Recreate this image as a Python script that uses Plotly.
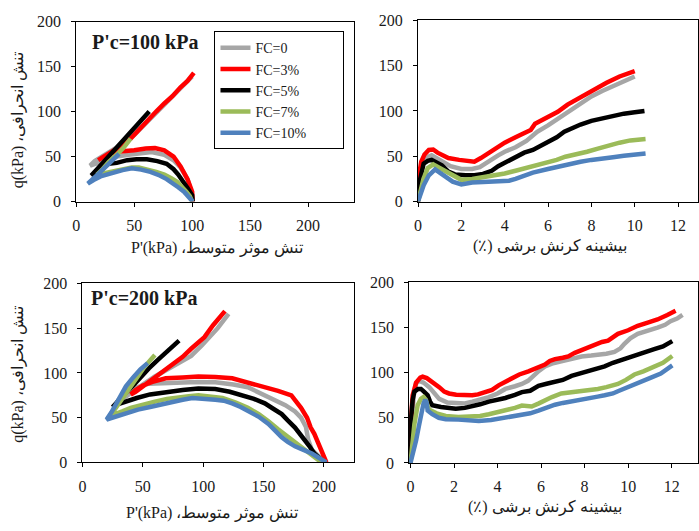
import plotly.graph_objects as go

# ---------------- data ----------------
SERIES_NAMES = ["FC=0", "FC=3%", "FC=5%", "FC=7%", "FC=10%"]

# Top-left: stress path, P'c = 100 kPa  (p', q)
TL_FC0_P = [100, 99, 96, 90, 84, 76, 65, 55, 45, 35, 25, 17, 12, 16, 22, 30, 40, 50, 60, 70, 80, 90, 100]
TL_FC0_Q = [0, 12, 25, 38, 46, 52, 55, 54, 52, 50, 46, 42, 40, 45, 50, 56, 64, 74, 87, 99, 112, 125, 139]
TL_FC3_P = [100.5, 100, 96, 90, 84, 76, 68, 60, 50, 40, 33, 25, 19, 24, 32, 40, 47, 55, 62, 69, 76, 83, 90, 96, 101.5]
TL_FC3_Q = [0, 11, 25, 39, 50, 57, 59.5, 59, 57, 56, 55, 51, 46, 50, 56, 63, 70, 81, 92, 100, 109, 117, 127, 134, 143]
TL_FC5_P = [100.5, 100, 96, 93, 88, 84, 78, 70, 61, 52, 44, 35, 28, 22, 17, 13, 18, 23, 28, 33, 38, 43, 48, 53, 58, 63]
TL_FC5_Q = [0, 7, 15, 21, 30, 36, 42, 45, 47, 47, 46, 43, 42, 37, 33, 29, 36, 43, 50, 57, 64, 71, 79, 86, 93, 100]
TL_FC7_P = [100, 98, 95, 91, 87, 82, 76, 69, 61, 54, 48, 40, 33, 25, 18, 22, 28, 35, 41, 47]
TL_FC7_Q = [0, 6, 11, 17, 22, 26, 30, 33, 36, 38, 38, 36, 34, 32, 30, 35, 44, 52, 60, 70]
TL_FC10_P = [100.5, 97, 93, 88, 84, 78, 72, 64, 56, 48, 40, 33, 26, 21, 15, 10, 16, 22, 28, 34, 37]
TL_FC10_Q = [0, 6, 11, 16, 20, 25, 29, 33, 35.5, 37, 35, 32, 30, 28, 24, 20, 27, 34, 41, 49, 53]

# Top-right: q vs max shear strain, P'c = 100 kPa
TR_FC0_E = [0, 0.05, 0.15, 0.35, 0.63, 0.9, 1.2, 1.5, 2.0, 2.5, 2.85, 3.1, 3.3, 3.7, 4.0, 4.5, 5.0, 5.5, 6.0, 6.5, 7.0, 7.5, 8.0, 8.5, 9.0, 9.5, 10.0]
TR_FC0_Q = [0, 20, 38, 48, 51, 47, 42, 39, 36, 36, 38, 42, 46, 51, 55, 60, 67, 77, 84, 92, 101, 109, 116, 122, 127, 132, 138]
TR_FC3_E = [0, 0.05, 0.15, 0.3, 0.5, 0.7, 0.9, 1.1, 1.4, 1.9, 2.3, 2.6, 2.9, 3.2, 3.5, 4.0, 4.5, 5.0, 5.2, 5.4, 6.0, 6.45, 6.9, 7.5, 8.1, 8.7, 9.3, 10.0]
TR_FC3_Q = [0, 30, 44, 52, 57, 57.5, 54, 52, 48, 46, 45, 44, 48, 53, 58, 65, 71, 76, 79, 86, 94, 99, 107, 115, 124, 131, 138, 144]
TR_FC5_E = [0, 0.03, 0.1, 0.26, 0.45, 0.63, 0.85, 1.1, 1.4, 1.7, 2.2, 2.6, 3.0, 3.4, 3.7, 4.1, 4.5, 4.9, 5.3, 5.7, 6.0, 6.4, 6.75, 7.1, 7.5, 8.0, 8.5, 9.0, 9.5, 10.0, 10.45]
TR_FC5_Q = [0, 7, 25, 42, 45, 46, 43, 40, 33, 30, 29, 29, 30.5, 34, 39, 44, 50, 54, 57, 62, 67, 71, 77, 81, 85, 89, 92, 95, 97, 98.5, 100]
TR_FC7_E = [0, 0.1, 0.25, 0.45, 0.7, 1.0, 1.3, 1.6, 2.0, 2.5, 3.0, 3.5, 4.0, 4.5, 5.0, 5.5, 5.9, 6.4, 6.8, 7.3, 7.8, 8.3, 8.8, 9.3, 9.8, 10.5]
TR_FC7_Q = [0, 10, 25, 37, 41, 37, 33, 28, 24, 25, 27, 28.5, 31, 34, 37, 40, 43.5, 46, 49.5, 52, 55, 58.5, 62, 65, 67.5, 69]
TR_FC10_E = [0, 0.1, 0.26, 0.5, 0.79, 1.0, 1.3, 1.6, 2.0, 2.5, 3.0, 3.7, 4.2, 4.5, 5.0, 5.3, 6.0, 6.5, 7.0, 7.5, 8.0, 8.5, 9.0, 9.5, 10.0, 10.5]
TR_FC10_Q = [0, 7, 18, 29, 35.5, 32, 27, 22, 19, 21, 21.5, 22, 23, 25, 29, 32, 36, 39, 42, 44, 46, 47, 49, 50.5, 51.5, 53]

# Bottom-left: stress path, P'c = 200 kPa
BL_FC0_P = [200, 199, 195, 190, 187, 185, 181, 176, 168, 159, 148, 137, 125, 110, 95, 83, 70, 55, 45, 36, 30, 27, 32, 40, 50, 60, 70, 80, 90, 99, 105, 112, 121]
BL_FC0_Q = [0, 3, 8, 14, 25, 40, 50, 57, 64, 70, 77, 84, 87, 89.5, 90, 89.5, 89, 88, 84, 77, 70, 63, 70, 78, 87, 96, 104, 111, 119, 131, 140, 150, 166]
BL_FC3_P = [202, 199, 196, 192, 189, 186, 181, 176, 173, 162, 151, 138, 124, 110, 96, 83, 69, 58, 50, 44, 40, 44, 50, 55, 62, 69, 76, 83, 90, 96, 101, 108, 114, 118]
BL_FC3_Q = [0, 10, 21, 32, 39, 50, 61, 70, 75, 80, 84, 90, 94, 95.5, 96, 95, 94, 90, 86, 81, 76, 79, 85, 90, 97, 104, 111, 118, 127, 135, 140, 153, 162, 169]
BL_FC5_P = [200, 196, 192, 188, 184, 180, 176, 170, 165, 158, 151, 142, 132, 122, 110, 96, 83, 69, 56, 45, 35, 29, 25, 30, 36, 42, 48, 55, 62, 70, 80]
BL_FC5_Q = [0, 5, 10, 18, 25, 32, 39, 47, 54, 60, 66, 71, 75, 79, 82, 82.5, 81, 79, 76, 72, 68, 65, 62, 70, 78, 86, 95, 105, 114, 124, 136]
BL_FC7_P = [198, 194, 188, 184, 177, 170, 162, 154, 146, 137, 127, 116, 105, 96, 88, 80, 70, 60, 50, 40, 33, 27, 22, 26, 31, 36, 41, 46, 51, 56, 60]
BL_FC7_Q = [0, 4, 10, 14, 21, 28, 37, 46, 54, 61, 67, 72, 74, 75, 74, 73, 71, 68, 65, 61, 57, 54, 50, 58, 67, 77, 88, 98, 106, 114, 120]
BL_FC10_P = [202, 196, 190, 183, 176, 170, 165, 160, 154, 146, 138, 131, 124, 117, 110, 100, 91, 83, 77, 66, 56, 46, 36, 28, 20, 24, 28, 31, 36, 42, 48, 54]
BL_FC10_Q = [0, 5, 10, 14, 18, 23, 28, 35, 43, 51, 57, 62, 66, 69, 70, 71, 72, 70, 68, 65, 62, 59, 55, 52, 48, 56, 66, 75, 85, 95, 104, 111]

# Bottom-right: q vs max shear strain, P'c = 200 kPa
BR_FC0_E = [0, 0.05, 0.15, 0.25, 0.41, 0.6, 0.86, 1.1, 1.32, 1.7, 2.08, 2.5, 2.84, 3.2, 3.6, 4.0, 4.36, 4.8, 5.12, 5.4, 5.6, 5.9, 6.18, 6.5, 6.93, 7.4, 7.86, 8.3, 8.61, 9.0, 9.37, 9.65, 9.83, 10.1, 10.44, 10.9, 11.35, 11.7, 11.95, 12.25, 12.5]
BR_FC0_Q = [0, 40, 75, 88, 91, 89, 84, 77, 71, 67, 66, 66, 68, 70, 73, 77, 82, 85, 87.5, 91, 96, 102, 107, 110, 112.5, 115, 118, 119, 119.5, 121, 123, 127, 132, 138, 143, 146, 150, 153, 157, 160, 164]
BR_FC3_E = [0, 0.03, 0.1, 0.26, 0.45, 0.56, 0.75, 0.87, 1.1, 1.32, 1.55, 1.77, 2.1, 2.38, 2.84, 3.1, 3.45, 3.75, 4.05, 4.35, 4.66, 5.0, 5.42, 5.8, 6.18, 6.4, 6.64, 7.0, 7.25, 7.55, 7.86, 8.2, 8.47, 8.8, 9.08, 9.3, 9.53, 10.0, 10.44, 10.9, 11.35, 11.8, 12.18]
BR_FC3_Q = [0, 50, 75, 89, 94.5, 95.5, 94, 92, 87, 84, 79, 77, 75.5, 75, 75, 76, 78.5, 81, 86, 90, 94.5, 98, 101.5, 105, 109, 113, 115, 116.5, 118, 122, 125, 128.5, 132, 134, 135.5, 139, 143, 147, 152, 155.5, 159, 164, 168.5]
BR_FC5_E = [0, 0.03, 0.1, 0.18, 0.35, 0.48, 0.62, 0.79, 0.9, 1.0, 1.4, 2.08, 2.5, 2.84, 3.2, 3.6, 4.0, 4.36, 4.8, 5.12, 5.5, 5.88, 6.3, 6.64, 7.0, 7.4, 7.8, 8.16, 8.6, 8.92, 9.3, 9.68, 10.0, 10.44, 10.8, 11.2, 11.6, 12.03]
BR_FC5_Q = [0, 50, 70, 79, 82, 82, 79, 75, 68, 64, 62, 60, 61, 62.5, 65, 68, 70, 72, 75.5, 78.5, 80, 85.5, 88, 89.5, 92, 96.5, 99, 102, 105, 107, 111, 114, 117.5, 121, 124, 126, 129, 135]
BR_FC7_E = [0, 0.08, 0.18, 0.33, 0.48, 0.6, 0.71, 0.8, 0.87, 1.2, 1.62, 2.2, 2.84, 3.2, 3.6, 4.0, 4.36, 4.8, 5.12, 5.57, 5.9, 6.18, 6.5, 6.93, 7.4, 7.86, 8.2, 8.61, 9.0, 9.53, 9.9, 10.29, 10.7, 11.2, 11.6, 12.03]
BR_FC7_Q = [0, 20, 43, 64, 71, 73, 70, 62, 59, 55, 52, 51, 51, 52, 54, 56, 58, 61, 63.5, 62.5, 66, 69.5, 73, 77, 78.5, 79.5, 80, 82, 84, 87.5, 92, 98, 101.5, 107, 111, 118.5]
BR_FC10_E = [0, 0.1, 0.26, 0.38, 0.48, 0.6, 0.68, 0.74, 0.79, 1.0, 1.3, 1.62, 2.2, 2.84, 3.14, 3.7, 4.36, 4.8, 5.12, 5.5, 5.88, 6.2, 6.64, 7.0, 7.4, 7.8, 8.16, 8.6, 8.92, 9.3, 9.53, 9.9, 10.29, 10.7, 11.05, 11.5, 12.03]
BR_FC10_Q = [0, 8, 25, 40, 54, 66, 70, 67, 58, 54, 50, 48.5, 48, 47, 46.5, 47.5, 50, 52, 53.5, 55, 58, 61, 64.5, 66.5, 68, 70, 71.5, 73.5, 75, 77, 79.5, 83, 86, 90, 94.5, 99, 108]

TICKS_P = [0, 50, 100, 150, 200]
TICKS_E = [0, 2, 4, 6, 8, 10, 12]
TICKS_Q = [0, 50, 100, 150, 200]

# ---------------- styling ----------------
W, H = 699, 531
COLORS = ["#A6A6A6", "#FF0000", "#000000", "#9BBB59", "#4F81BD"]
LW = 4.5
SERIF = "Liberation Serif, Times New Roman, serif"
TXT = "#1a1a1a"
PAD = "\u00a0" * 9


def fx(px):
    return px / W


def fy(py):
    return 1 - py / H


fig = go.Figure()

panels = [
    ("x", "y", [(TL_FC0_P, TL_FC0_Q), (TL_FC3_P, TL_FC3_Q), (TL_FC5_P, TL_FC5_Q), (TL_FC7_P, TL_FC7_Q), (TL_FC10_P, TL_FC10_Q)], True),
    ("x2", "y2", [(TR_FC0_E, TR_FC0_Q), (TR_FC3_E, TR_FC3_Q), (TR_FC5_E, TR_FC5_Q), (TR_FC7_E, TR_FC7_Q), (TR_FC10_E, TR_FC10_Q)], False),
    ("x3", "y3", [(BL_FC0_P, BL_FC0_Q), (BL_FC3_P, BL_FC3_Q), (BL_FC5_P, BL_FC5_Q), (BL_FC7_P, BL_FC7_Q), (BL_FC10_P, BL_FC10_Q)], False),
    ("x4", "y4", [(BR_FC0_E, BR_FC0_Q), (BR_FC3_E, BR_FC3_Q), (BR_FC5_E, BR_FC5_Q), (BR_FC7_E, BR_FC7_Q), (BR_FC10_E, BR_FC10_Q)], False),
]

for xa, ya, data, show in panels:
    for i, (xs, ys) in enumerate(data):
        fig.add_trace(go.Scatter(
            x=xs, y=ys, xaxis=xa, yaxis=ya, mode="lines",
            name=SERIES_NAMES[i] + PAD, showlegend=show,
            legendgroup=SERIES_NAMES[i],
            line=dict(color=COLORS[i], width=LW),
        ))

axis_common = dict(
    showline=True, mirror=True, linecolor="#000000", linewidth=1,
    showgrid=False, zeroline=False, ticks="outside", ticklen=4,
    tickcolor="#000000", tickfont=dict(family=SERIF, size=16, color=TXT),
    fixedrange=True,
)
xax = dict(ticklabelstandoff=5, **axis_common)
yax = dict(ticklabelstandoff=7, **axis_common)

layout = dict(
    width=W, height=H, margin=dict(l=0, r=0, t=0, b=0),
    paper_bgcolor="white", plot_bgcolor="white",
    showlegend=True,
    legend=dict(
        x=fx(212), y=fy(24), xanchor="left", yanchor="top",
        bordercolor="#000000", borderwidth=1, bgcolor="white",
        font=dict(family=SERIF, size=14, color=TXT),
        tracegroupgap=0, itemwidth=30,
    ),
    xaxis=dict(domain=[fx(72.7), fx(353)], range=[0, 240], tickvals=TICKS_P, anchor="y", **xax),
    yaxis=dict(domain=[fy(200), fy(14)], range=[0, 200], tickvals=TICKS_Q, anchor="x", **yax),
    xaxis2=dict(domain=[fx(417), 1], range=[0, 12.92], tickvals=TICKS_E, anchor="y2", **xax),
    yaxis2=dict(domain=[fy(200), fy(12.7)], range=[0, 200], tickvals=TICKS_Q, anchor="x2", **yax),
    xaxis3=dict(domain=[fx(79), fx(352.7)], range=[0, 225], tickvals=TICKS_P, anchor="y3", **xax),
    yaxis3=dict(domain=[fy(469.5), fy(284.5)], range=[0, 200], tickvals=TICKS_Q, anchor="x3", **yax),
    xaxis4=dict(domain=[fx(408), 1], range=[-0.064, 13.21], tickvals=TICKS_E, anchor="y4", **xax),
    yaxis4=dict(domain=[fy(470), fy(283.5)], range=[0, 200], tickvals=TICKS_Q, anchor="x4", **yax),
)
fig.update_layout(**layout)

XT_P = "P'(kPa) \u060cتنش موثر متوسط"
YT_Q = "q(kPa) \u060cتنش انحرافی"
XT_E = "(\u066a) بیشینه کرنش برشی"

ann = []


def add_text(text, x, y, size=15, angle=0, bold=False):
    ann.append(dict(
        text=("<b>%s</b>" % text) if bold else text,
        x=fx(x), y=fy(y), xref="paper", yref="paper",
        xanchor="center", yanchor="middle", showarrow=False, textangle=angle,
        font=dict(family=SERIF, size=size, color=TXT),
    ))


add_text("P'c=100 kPa", 142, 35, size=20, bold=True)
add_text("P'c=200 kPa", 141, 300, size=20, bold=True)
add_text(XT_P, 215, 248, size=16)
add_text(XT_P, 210, 522, size=16)
add_text(XT_E, 550, 246, size=16)
add_text(XT_E, 545, 516, size=16)
add_text(YT_Q, 14, 115, size=16, angle=-90)
add_text(YT_Q, 14, 378, size=16, angle=-90)

fig.update_layout(annotations=ann)

fig.write_html("out.html")
